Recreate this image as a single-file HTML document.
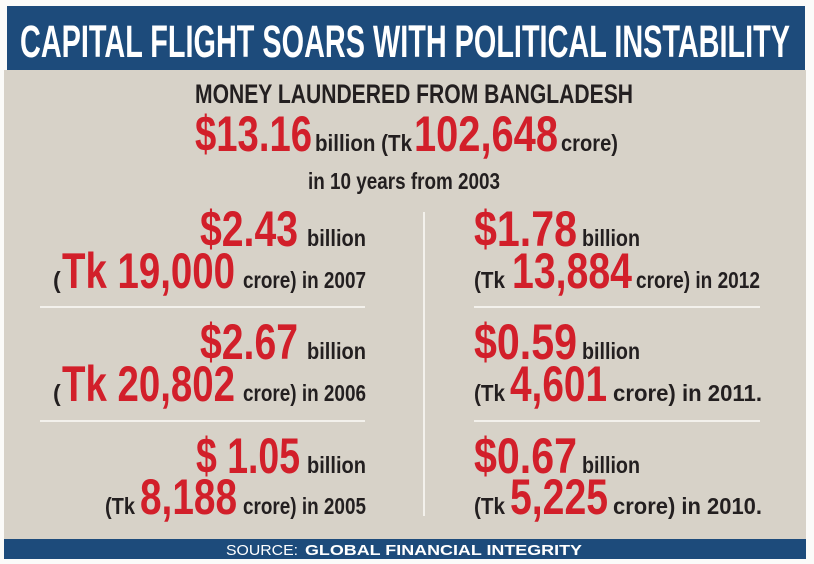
<!DOCTYPE html>
<html><head><meta charset="utf-8"><style>
html,body{margin:0;padding:0;background:#fff;}
svg{display:block}
text{font-family:"Liberation Sans Narrow","Liberation Sans",sans-serif;font-weight:bold;}
.r{fill:#d21f2a;font-size:50px}
.k{fill:#231f20;font-size:23px}
</style></head><body>
<svg width="814" height="564" viewBox="0 0 814 564" xmlns="http://www.w3.org/2000/svg">
<rect x="0" y="0" width="814" height="564" fill="#fbfbf9"/>
<rect x="4" y="70" width="802" height="470" fill="#d7d2c8"/>
<rect x="7" y="6" width="798" height="64" fill="#1d4b7b"/>
<text x="20" y="57" font-size="45" fill="#fff" textLength="770" lengthAdjust="spacingAndGlyphs">CAPITAL FLIGHT SOARS WITH POLITICAL INSTABILITY</text>
<text x="195" y="103" font-size="27" fill="#231f20" textLength="438" lengthAdjust="spacingAndGlyphs">MONEY LAUNDERED FROM BANGLADESH</text>
<text class="r" x="195" y="151" textLength="117" lengthAdjust="spacingAndGlyphs">$13.16</text>
<text class="k" x="315" y="151" textLength="97" lengthAdjust="spacingAndGlyphs">billion (Tk</text>
<text class="r" x="414" y="151" textLength="144" lengthAdjust="spacingAndGlyphs">102,648</text>
<text class="k" x="561" y="151" textLength="57" lengthAdjust="spacingAndGlyphs">crore)</text>
<text class="k" x="308" y="189" textLength="192" lengthAdjust="spacingAndGlyphs">in 10 years from 2003</text>
<line x1="424" y1="212" x2="424" y2="516" stroke="#f3f1ec" stroke-width="2"/>
<line x1="40" y1="307" x2="365" y2="307" stroke="#f3f1ec" stroke-width="2"/>
<line x1="40" y1="421" x2="365" y2="421" stroke="#f3f1ec" stroke-width="2"/>
<line x1="474" y1="307" x2="760" y2="307" stroke="#f3f1ec" stroke-width="2"/>
<line x1="474" y1="421" x2="760" y2="421" stroke="#f3f1ec" stroke-width="2"/>
<text class="r" x="200" y="246" textLength="98" lengthAdjust="spacingAndGlyphs">$2.43</text>
<text class="k" x="307" y="246" textLength="59" lengthAdjust="spacingAndGlyphs">billion</text>
<text class="k" x="53" y="288">(</text>
<text class="r" x="62" y="288" textLength="173" lengthAdjust="spacingAndGlyphs">Tk 19,000</text>
<text class="k" x="243" y="288" textLength="123" lengthAdjust="spacingAndGlyphs">crore) in 2007</text>
<text class="r" x="200" y="359" textLength="98" lengthAdjust="spacingAndGlyphs">$2.67</text>
<text class="k" x="307" y="359" textLength="59" lengthAdjust="spacingAndGlyphs">billion</text>
<text class="k" x="53" y="401">(</text>
<text class="r" x="62" y="401" textLength="173" lengthAdjust="spacingAndGlyphs">Tk 20,802</text>
<text class="k" x="243" y="401" textLength="123" lengthAdjust="spacingAndGlyphs">crore) in 2006</text>
<text class="r" x="196" y="473" textLength="104" lengthAdjust="spacingAndGlyphs">$ 1.05</text>
<text class="k" x="307" y="473" textLength="59" lengthAdjust="spacingAndGlyphs">billion</text>
<text class="k" x="105" y="514" textLength="30" lengthAdjust="spacingAndGlyphs">(Tk</text>
<text class="r" x="140" y="514" textLength="97" lengthAdjust="spacingAndGlyphs">8,188</text>
<text class="k" x="243" y="514" textLength="123" lengthAdjust="spacingAndGlyphs">crore) in 2005</text>
<text class="r" x="474" y="246" textLength="103" lengthAdjust="spacingAndGlyphs">$1.78</text>
<text class="k" x="582" y="246" textLength="58" lengthAdjust="spacingAndGlyphs">billion</text>
<text class="k" x="474" y="288" textLength="31" lengthAdjust="spacingAndGlyphs">(Tk</text>
<text class="r" x="512" y="288" textLength="120" lengthAdjust="spacingAndGlyphs">13,884</text>
<text class="k" x="636" y="288" textLength="124" lengthAdjust="spacingAndGlyphs">crore) in 2012</text>
<text class="r" x="474" y="359" textLength="103" lengthAdjust="spacingAndGlyphs">$0.59</text>
<text class="k" x="582" y="359" textLength="58" lengthAdjust="spacingAndGlyphs">billion</text>
<text class="k" x="474" y="401" textLength="31" lengthAdjust="spacingAndGlyphs">(Tk</text>
<text class="r" x="510" y="401" textLength="97" lengthAdjust="spacingAndGlyphs">4,601</text>
<text class="k" x="613" y="401" textLength="149" lengthAdjust="spacingAndGlyphs">crore) in 2011.</text>
<text class="r" x="474" y="473" textLength="103" lengthAdjust="spacingAndGlyphs">$0.67</text>
<text class="k" x="582" y="473" textLength="58" lengthAdjust="spacingAndGlyphs">billion</text>
<text class="k" x="474" y="514" textLength="31" lengthAdjust="spacingAndGlyphs">(Tk</text>
<text class="r" x="510" y="514" textLength="98" lengthAdjust="spacingAndGlyphs">5,225</text>
<text class="k" x="613" y="514" textLength="149" lengthAdjust="spacingAndGlyphs">crore) in 2010.</text>
<rect x="4" y="539" width="802" height="20" fill="#1d4b7b"/>
<text x="226" y="555" font-size="15" fill="#fff" style="font-weight:normal" textLength="72" lengthAdjust="spacingAndGlyphs">SOURCE:</text>
<text x="305" y="555" font-size="15" fill="#fff" textLength="277" lengthAdjust="spacingAndGlyphs">GLOBAL FINANCIAL INTEGRITY</text>
</svg>
</body></html>
